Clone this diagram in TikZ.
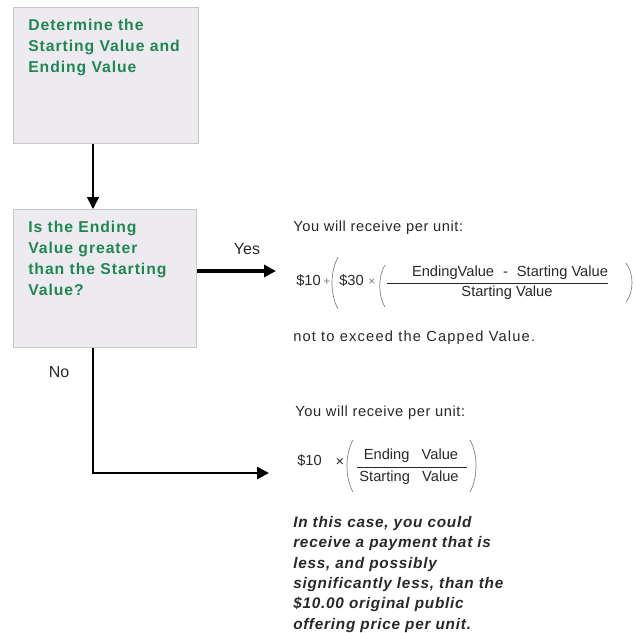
\documentclass[tikz,border=0pt]{standalone}
\usepackage{fontspec}
\setmainfont{Liberation Sans}
\usetikzlibrary{arrows.meta}
\definecolor{boxgreen}{RGB}{30,135,85}
\definecolor{boxfill}{RGB}{238,235,240}
\definecolor{boxline}{RGB}{200,200,200}
\definecolor{txt}{RGB}{40,40,40}
\begin{document}
\begin{tikzpicture}[x=0.75pt,y=-0.75pt,
  box/.style={draw=boxline,line width=1.1pt,fill=boxfill,inner sep=0pt},
  greentext/.style={anchor=north west,inner sep=0pt,align=left,text=boxgreen,
    font=\fontsize{11.8pt}{15.75pt}\selectfont\bfseries\addfontfeature{LetterSpace=6}},
  plain/.style={anchor=west,inner sep=0pt,text=txt,font=\fontsize{11pt}{12pt}\selectfont\addfontfeature{LetterSpace=4}},
  formula/.style={inner sep=0pt,text=txt,font=\fontsize{11pt}{12pt}\selectfont},
  op/.style={inner sep=0pt,text=txt!60,font=\fontsize{9pt}{10pt}\selectfont},
  note/.style={anchor=north west,inner sep=0pt,align=left,text=txt,
    font=\fontsize{11.5pt}{15.3pt}\selectfont\bfseries\itshape\addfontfeature{LetterSpace=5}},
  label/.style={inner sep=0pt,text=txt,font=\fontsize{12pt}{13pt}\selectfont},
  tip/.style={-{Triangle[length=9pt,width=9pt]}},
  paren/.style={draw=txt!60,line width=0.5pt}]
\useasboundingbox (0,0) rectangle (637,633);
% boxes
\node[box,minimum width=138.75pt,minimum height=102pt,anchor=north west] (b1) at (13,7) {};
\node[box,minimum width=137.25pt,minimum height=103.5pt,anchor=north west] (b2) at (13,209) {};
\node[greentext] (t1) at (28,19) {Determine the\\Starting Value and\\Ending Value};
\node[greentext] (t2) at (28,221) {Is the Ending\\Value greater\\than the Starting\\Value?};
% connectors
\coordinate (a1) at (93,143);
\coordinate (a2) at (93,209);
\draw[tip,line width=1.2pt,black] (b1.south -| a1) -- (b2.north -| a2);
\coordinate (yesend) at (276,271);
\draw[tip,line width=2.4pt,black] (b2.east |- yesend) -- (yesend);
\coordinate (nostart) at (93,347);
\coordinate (noend) at (269,473);
\draw[tip,line width=2pt,black] (b2.south -| nostart) -- (nostart |- noend) -- (noend);
\node[label] (yes) at (247,249) {Yes};
\node[label] (no) at (59,372) {No};
% upper result
\node[plain] (r1) at (293,228) {You will receive per unit:};
\node[formula,anchor=west] (f10) at (296,281) {\$10};
\node[op] (plus) at (327,282) {+};
\draw[paren] (338,257) .. controls (330,272) and (330,294) .. (338,309);
\node[formula,anchor=west] (f30) at (339,281) {\$30};
\node[op] (times1) at (372,282) {×};
\draw[paren] (385,265) .. controls (378,276) and (378,296) .. (385,307);
\node[formula] (num1) at (510,273) {EndingValue\,\, -\,\, Starting Value};
\draw[txt,line width=0.7pt] (387,283) -- (608,283);
\node[formula] (den1) at (507,293) {Starting Value};
\draw[paren] (626,263) .. controls (634,274) and (634,292) .. (626,302);
\node[plain,font=\fontsize{11pt}{12pt}\selectfont\addfontfeature{LetterSpace=8}] (cap) at (293,338) {not to exceed the Capped Value.};
% lower result
\node[plain] (r2) at (295,413) {You will receive per unit:};
\node[formula,anchor=west] (g10) at (297,461) {\$10};
\node[formula] (gx) at (340,462) {×};
\draw[paren] (353,440) .. controls (345,454) and (345,478) .. (353,492);
\node[formula] (num2) at (411,456) {Ending\;\; Value};
\draw[txt,line width=0.7pt] (357,467) -- (467,467);
\node[formula] (den2) at (409,478) {Starting\;\; Value};
\draw[paren] (470,440) .. controls (478,454) and (478,478) .. (470,492);
\node[note] (n1) at (293,516) {In this case, you could\\receive a payment that is\\less, and possibly\\significantly less, than the\\\$10.00 original public\\offering price per unit.};
\end{tikzpicture}
\end{document}
